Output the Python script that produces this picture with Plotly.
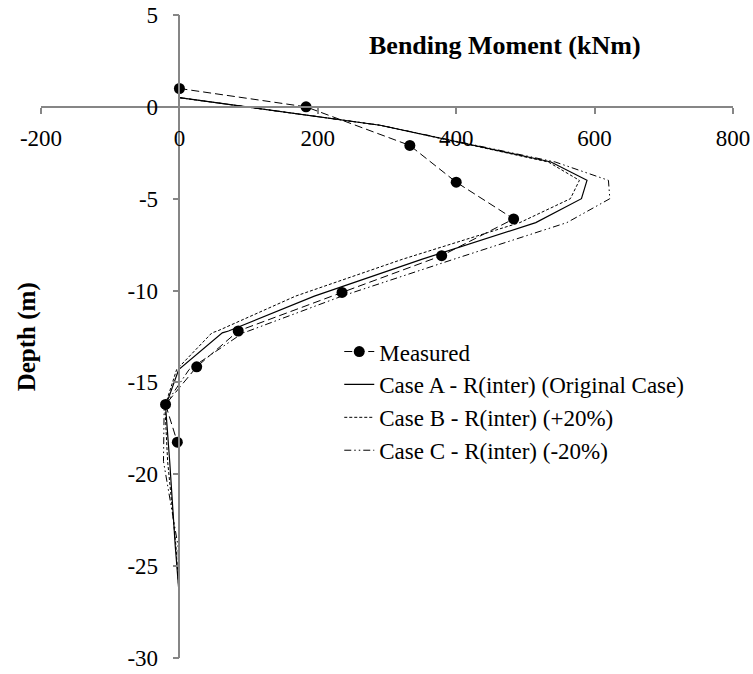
import plotly.graph_objects as go

# Measured bending moment profile
measured_moment = [0, 183, 333, 400, 483, 379, 235, 85, 25, -20, -3]
measured_depth = [1.0, 0.0, -2.1, -4.1, -6.1, -8.1, -10.1, -12.2, -14.15, -16.2, -18.25]

# Computed profiles (shared node depths)
model_depth = [0.5, -1.0, -3.0, -4.0, -5.0, -6.3, -8.3, -10.3, -12.2, -12.3,
               -14.3, -16.3, -19.3, -23.9, -26.7]
case_a = [0, 290, 537, 589, 581, 515, 350, 195, 71, 62, -1, -20, -14, -6, 0]
case_b = [0, 290, 533, 578, 565, 492, 322, 168, 55, 47, -4, -21, -17, -5, 0]
case_c = [0, 290, 543, 620, 622, 560, 396, 235, 100, 92, 14, -22, -23, -2, 0]

x_ticks = [-200, 0, 200, 400, 600, 800]
y_ticks = [5, 0, -5, -10, -15, -20, -25, -30]
x_range = [-200, 800]
y_range = [-30, 5]

FONT = "Times New Roman, Liberation Serif, DejaVu Serif, serif"
AXIS_GREY = "#868686"

fig = go.Figure()
fig.add_trace(go.Scatter(
    x=measured_moment, y=measured_depth, mode="lines+markers",
    name="Measured",
    line=dict(color="black", width=1, dash="8px,4px"),
    marker=dict(color="black", size=11),
))
fig.add_trace(go.Scatter(
    x=case_a, y=model_depth, mode="lines",
    name="Case A - R(inter) (Original Case)",
    line=dict(color="black", width=1.2),
))
fig.add_trace(go.Scatter(
    x=case_b, y=model_depth, mode="lines",
    name="Case B - R(inter) (+20%)",
    line=dict(color="black", width=1, dash="3px,2px"),
))
fig.add_trace(go.Scatter(
    x=case_c, y=model_depth, mode="lines",
    name="Case C - R(inter) (-20%)",
    line=dict(color="black", width=1, dash="7px,3px,1.5px,3px,1.5px,3px"),
))

# Axes cross at the origin
x_at_zero = (0 - x_range[0]) / (x_range[1] - x_range[0])
y_at_zero = (0 - y_range[0]) / (y_range[1] - y_range[0])

fig.update_layout(
    width=753, height=674,
    margin=dict(l=41, r=20, t=15, b=16, autoexpand=False),
    paper_bgcolor="white", plot_bgcolor="white",
    font=dict(family=FONT, size=23, color="black"),
    showlegend=True,
    legend=dict(
        x=0.431, y=0.51, xanchor="left", yanchor="top",
        bgcolor="rgba(0,0,0,0)", font=dict(family=FONT, size=23),
        tracegroupgap=0, itemwidth=30,
    ),
    xaxis=dict(
        range=x_range, tickvals=x_ticks, ticktext=[str(v) for v in x_ticks],
        anchor="free", position=y_at_zero, automargin=False,
        showline=True, linecolor=AXIS_GREY, linewidth=1.5,
        ticks="outside", ticklen=6, tickcolor=AXIS_GREY, tickwidth=1.5,
        ticklabelstandoff=5,
        showgrid=False, zeroline=False,
        tickfont=dict(family=FONT, size=23, color="black"),
    ),
    yaxis=dict(
        range=y_range, tickvals=y_ticks, ticktext=[str(v) for v in y_ticks],
        anchor="free", position=x_at_zero, automargin=False,
        showline=True, linecolor=AXIS_GREY, linewidth=1.5,
        ticks="outside", ticklen=6, tickcolor=AXIS_GREY, tickwidth=1.5,
        ticklabelstandoff=10,
        showgrid=False, zeroline=False,
        tickfont=dict(family=FONT, size=23, color="black"),
    ),
    annotations=[
        dict(text="<b>Bending Moment (kNm)</b>", xref="paper", yref="paper",
             x=0.671, y=0.953, xanchor="center", yanchor="middle",
             showarrow=False, font=dict(family=FONT, size=26, color="black")),
        dict(text="<b>Depth (m)</b>", xref="paper", yref="paper",
             x=-0.02, y=0.499, xanchor="center", yanchor="middle",
             textangle=-90, showarrow=False,
             font=dict(family=FONT, size=25, color="black")),
    ],
)

fig.write_html("out.html")
